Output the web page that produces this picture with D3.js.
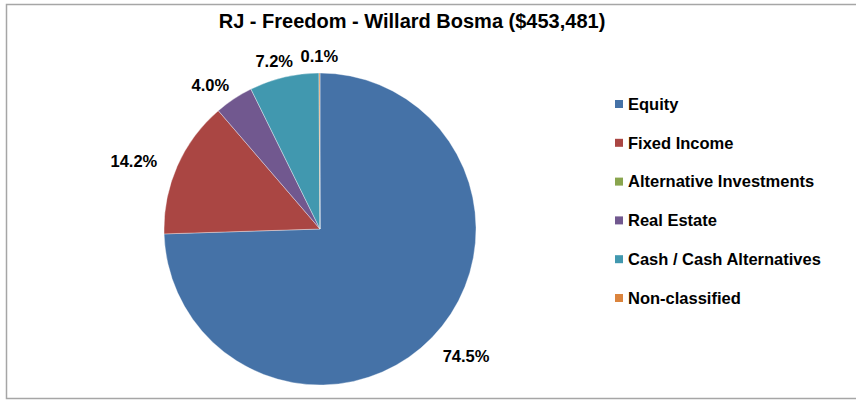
<!DOCTYPE html>
<html lang="en">
<head>
    <meta charset="UTF-8">
    <title>RJ - Freedom - Willard Bosma</title>
    <style>
        body {
            margin: 0;
            background: #fff;
        }
        svg {
            display: block;
            font-family: "Liberation Sans", Arial, sans-serif;
        }
    </style>
</head>
<body>
    <script src="https://d3js.org/d3.v7.min.js"></script>
    <script>
        const chartW = 856
        const chartH = 400

        const title = 'RJ - Freedom - Willard Bosma ($453,481)'
        const categories = ['Equity', 'Fixed Income', 'Alternative Investments', 'Real Estate', 'Cash / Cash Alternatives', 'Non-classified']
        const shares = [74.5, 14.2, 0.0, 4.0, 7.2, 0.1]
        const colors = ['#4572A7', '#AA4643', '#89A54E', '#71588F', '#4198AF', '#DB843D']

        const data = categories.map((name, i) => ({ name, value: shares[i], color: colors[i] }))

        const cx = 320
        const cy = 229
        const radius = 156

        const svg = d3.select('body')
            .append('svg')
            .attr('width', chartW)
            .attr('height', chartH)

        // frame (right edge falls outside the window)
        svg.append('rect')
            .attr('x', 6.5)
            .attr('y', 4.5)
            .attr('width', 870)
            .attr('height', 394)
            .attr('fill', 'none')
            .attr('stroke', '#a6a6a6')
            .attr('stroke-width', 1.5)

        svg.append('text')
            .attr('x', 412)
            .attr('y', 28)
            .attr('text-anchor', 'middle')
            .attr('font-size', 20)
            .attr('font-weight', 'bold')
            .text(title)

        const pie = d3.pie()
            .value(d => d.value)
            .sort(null)

        const arc = d3.arc()
            .innerRadius(0)
            .outerRadius(radius)

        const arcs = pie(data)

        const g = svg.append('g')
            .attr('transform', `translate(${cx}, ${cy})`)

        g.selectAll('path')
            .data(arcs.filter(d => d.data.value > 0))
            .enter()
            .append('path')
            .attr('d', arc)
            .attr('fill', d => d.data.color)
            .attr('stroke', '#ffffff')
            .attr('stroke-opacity', 0.6)
            .attr('stroke-width', 0.6)

        // percentage labels outside the pie
        const labelR = radius + 16
        g.selectAll('text')
            .data(arcs.filter(d => d.data.value > 0))
            .enter()
            .append('text')
            .attr('font-size', 16.5)
            .attr('font-weight', 'bold')
            .attr('text-anchor', 'middle')
            .attr('dy', '0.35em')
            .text(d => d.data.value.toFixed(1) + '%')
            .each(function (d) {
                const a = (d.startAngle + d.endAngle) / 2
                const w = this.getComputedTextLength()
                const x = (labelR + w / 2 + 8) * Math.sin(a)
                const y = -(labelR + 5) * Math.cos(a) + 4
                d3.select(this).attr('x', x).attr('y', y)
            })

        // legend
        const legendY = d3.scalePoint()
            .domain(categories)
            .range([104, 298])

        const legend = svg.append('g')
            .selectAll('g')
            .data(data)
            .enter()
            .append('g')
            .attr('transform', d => `translate(615, ${legendY(d.name)})`)

        legend.append('rect')
            .attr('x', 0)
            .attr('y', -4)
            .attr('width', 8)
            .attr('height', 8)
            .attr('fill', d => d.color)

        legend.append('text')
            .attr('x', 13)
            .attr('dy', '0.35em')
            .attr('font-size', 16.5)
            .attr('font-weight', 'bold')
            .text(d => d.name)
    </script>
</body>
</html>
